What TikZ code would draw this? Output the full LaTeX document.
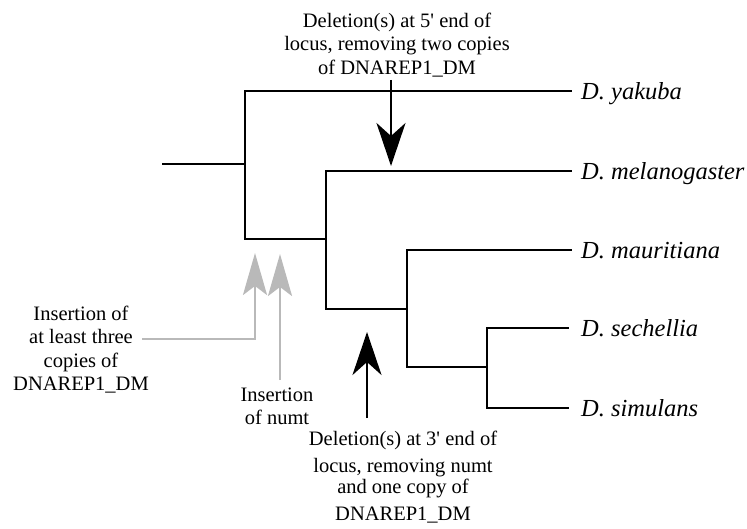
\documentclass[tikz,border=0pt]{standalone}
\usepackage{fontspec}
\setmainfont{Liberation Serif}
\usetikzlibrary{arrows.meta}
\definecolor{lightgrey}{RGB}{185,185,185}
\tikzset{
  branch/.style={line width=2.6pt, line cap=rect},
  species/.style={anchor=base west, inner sep=0pt, font=\fontsize{24.5}{28}\selectfont\itshape},
  note/.style={anchor=north, inner sep=0pt, align=center, font=\fontsize{20.5}{23.5}\selectfont},
  blackarrow/.style={line width=2.6pt, -{Stealth[length=43pt,width=29pt,inset=13pt]}},
  greyarrow/.style={line width=2.6pt, draw=lightgrey, -{Stealth[length=42pt,width=24pt,inset=9pt,fill=lightgrey]}}
}
\begin{document}
\begin{tikzpicture}[x=1pt,y=-1pt]
\useasboundingbox (0,0) rectangle (747,529);
% tree coordinates
\coordinate (root) at (163,164);
\coordinate (n1t) at (245,91);
\coordinate (n1m) at (245,164);
\coordinate (n1b) at (245,239);
\coordinate (n2b) at (326,239);
\coordinate (n2t) at (326,171);
\coordinate (n2l) at (326,309);
\coordinate (n3l) at (407,309);
\coordinate (n3t) at (407,250);
\coordinate (n3b) at (407,367);
\coordinate (n4l) at (487,367);
\coordinate (n4t) at (487,328);
\coordinate (n4b) at (487,408);
\coordinate (yak) at (571,91);
\coordinate (mel) at (571,171);
\coordinate (mau) at (571,250);
\coordinate (sec) at (568,328);
\coordinate (sim) at (568,408);
% species labels
\node[species] (lyak) at (581,99.5) {D. yakuba};
\node[species] (lmel) at (581,179.5) {D. melanogaster};
\node[species] (lmau) at (581,258.5) {D. mauritiana};
\node[species] (lsec) at (581,336.5) {D. sechellia};
\node[species] (lsim) at (581,416.5) {D. simulans};
% branches
\draw[branch] (root) -- (n1m);
\draw[branch] (yak) -- (n1t) -- (n1b) -- (n2b);
\draw[branch] (mel) -- (n2t) -- (n2l) -- (n3l);
\draw[branch] (mau) -- (n3t) -- (n3b) -- (n4l);
\draw[branch] (sec) -- (n4t) -- (n4b) -- (sim);
% annotations
\node[note] (del5) at (397,12.5) {Deletion(s) at 5\textquotesingle\ end of\\locus, removing two copies\\of DNAREP1\_DM};
\node[note] (ins1) at (81,305.5) {Insertion of\\at least three\\copies of\\DNAREP1\_DM};
\node[note] (ins2) at (277,387.5) {Insertion\\of numt};
\node[note] (del3) at (403,431) {Deletion(s) at 3\textquotesingle\ end of\\[3.5pt]locus, removing numt\\[-3pt]and one copy of\\[4pt]DNAREP1\_DM};
% arrows
\coordinate (t5s) at (391,80);
\coordinate (t5e) at (391,166);
\draw[blackarrow] (t5s) -- (t5e);
\coordinate (t3s) at (367,418);
\coordinate (t3e) at (367,332);
\draw[blackarrow] (t3s) -- (t3e);
\coordinate (g1s) at (142,339);
\coordinate (g1e) at (255,253);
\draw[greyarrow] (g1s) -| (g1e);
\coordinate (g2s) at (280,380);
\coordinate (g2e) at (280,254);
\draw[greyarrow] (g2s) -- (g2e);
\end{tikzpicture}
\end{document}
